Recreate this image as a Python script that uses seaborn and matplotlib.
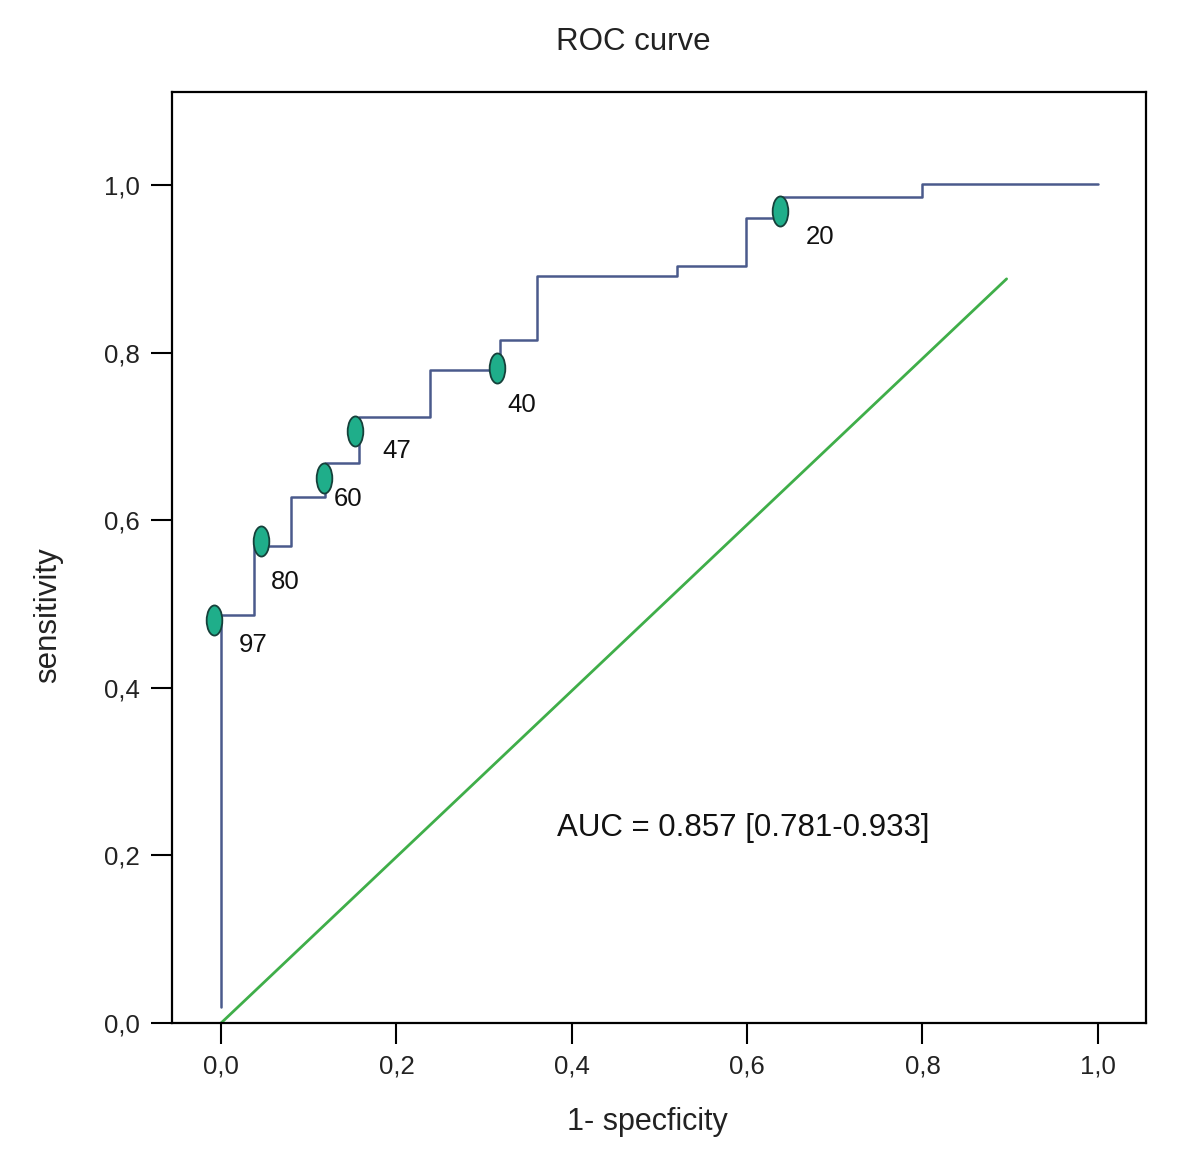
import numpy as np
import pandas as pd
import matplotlib
matplotlib.use("Agg")
import matplotlib.pyplot as plt
from matplotlib.path import Path
from matplotlib.ticker import FuncFormatter
import seaborn as sns

# ROC curve corner points (1-specificity, sensitivity)
roc_fpr = [0.0, 0.0, 0.038, 0.038, 0.080, 0.080, 0.119, 0.119, 0.157, 0.157,
           0.238, 0.238, 0.318, 0.318, 0.360, 0.360, 0.520, 0.520, 0.599, 0.599,
           0.637, 0.637, 0.800, 0.800, 1.0]
roc_tpr = [0.019, 0.487, 0.487, 0.569, 0.569, 0.628, 0.628, 0.668, 0.668, 0.723,
           0.723, 0.779, 0.779, 0.815, 0.815, 0.891, 0.891, 0.903, 0.903, 0.961,
           0.961, 0.986, 0.986, 1.001, 1.001]

# labelled cut-off points
cut_labels = ["97", "80", "60", "47", "40", "20"]
cut_fpr = [-0.008, 0.046, 0.117, 0.153, 0.315, 0.637]
cut_tpr = [0.481, 0.575, 0.650, 0.706, 0.782, 0.969]
lab_fpr = [0.037, 0.073, 0.145, 0.200, 0.343, 0.683]
lab_tpr = [0.451, 0.526, 0.625, 0.682, 0.738, 0.938]

# reference diagonal
diag_x = [0.0, 0.896]
diag_y = [0.0, 0.888]

x_ticks = [0.0, 0.2, 0.4, 0.6, 0.8, 1.0]
y_ticks = [0.0, 0.2, 0.4, 0.6, 0.8, 1.0]
auc_text = "AUC = 0.857 [0.781-0.933]"

sns.set_theme(style="white")
plt.rcParams['font.family'] = ['Liberation Sans', 'DejaVu Sans']

fig = plt.figure(figsize=(12, 11.59), dpi=100)
ax = fig.add_axes([172/1200, 1 - 1023/1159, (1146-172)/1200, (1023-92)/1159])

roc_df = pd.DataFrame({"fpr": roc_fpr, "tpr": roc_tpr})
diag_df = pd.DataFrame({"x": diag_x, "y": diag_y})
cut_df = pd.DataFrame({"fpr": cut_fpr, "tpr": cut_tpr})

sns.lineplot(data=diag_df, x="x", y="y", ax=ax, color="#3fae49", lw=2.0,
             estimator=None, sort=False)
sns.lineplot(data=roc_df, x="fpr", y="tpr", ax=ax, color="#4a5a8c", lw=1.8,
             estimator=None, sort=False)

verts = Path.unit_circle().vertices.copy()
verts[:, 0] *= 0.52
ell = Path(verts, Path.unit_circle().codes)
sns.scatterplot(data=cut_df, x="fpr", y="tpr", ax=ax, marker=ell, s=470,
                color="#1fae8a", edgecolor="#16403a", linewidth=1.3, zorder=5)

for t, x, y in zip(cut_labels, lab_fpr, lab_tpr):
    ax.text(x, y, t, fontsize=18.5, color="#111111", ha="center", va="center")

ax.text(0.383, 0.233, auc_text, fontsize=22.5, color="#111111", ha="left", va="center")

ax.set_xlim(-0.056, 1.055)
ax.set_ylim(0.0, 1.111)
ax.set_xticks(x_ticks)
ax.set_yticks(y_ticks)
fmt = FuncFormatter(lambda v, p: f"{v:.1f}".replace(".", ","))
ax.xaxis.set_major_formatter(fmt)
ax.yaxis.set_major_formatter(fmt)
ax.tick_params(axis="both", which="major", direction="out", length=15, width=1.5,
               color="black", labelsize=18.5, labelcolor="#222222", pad=8,
               bottom=True, left=True)
for sp in ax.spines.values():
    sp.set_color("black")
    sp.set_linewidth(1.6)
ax.set_xlabel("")
ax.set_ylabel("")

fig.text(633/1200, 1 - 42/1159, "ROC curve", fontsize=22.5, ha="center", va="center", color="#222222")
fig.text(647/1200, 1 - 1122/1159, "1- specficity", fontsize=22, ha="center", va="center", color="#222222")
fig.text(48/1200, 1 - 615/1159, "sensitivity", fontsize=22.5, ha="center", va="center",
         rotation=90, color="#222222")

fig.savefig("out.png", dpi=100, facecolor="white")
